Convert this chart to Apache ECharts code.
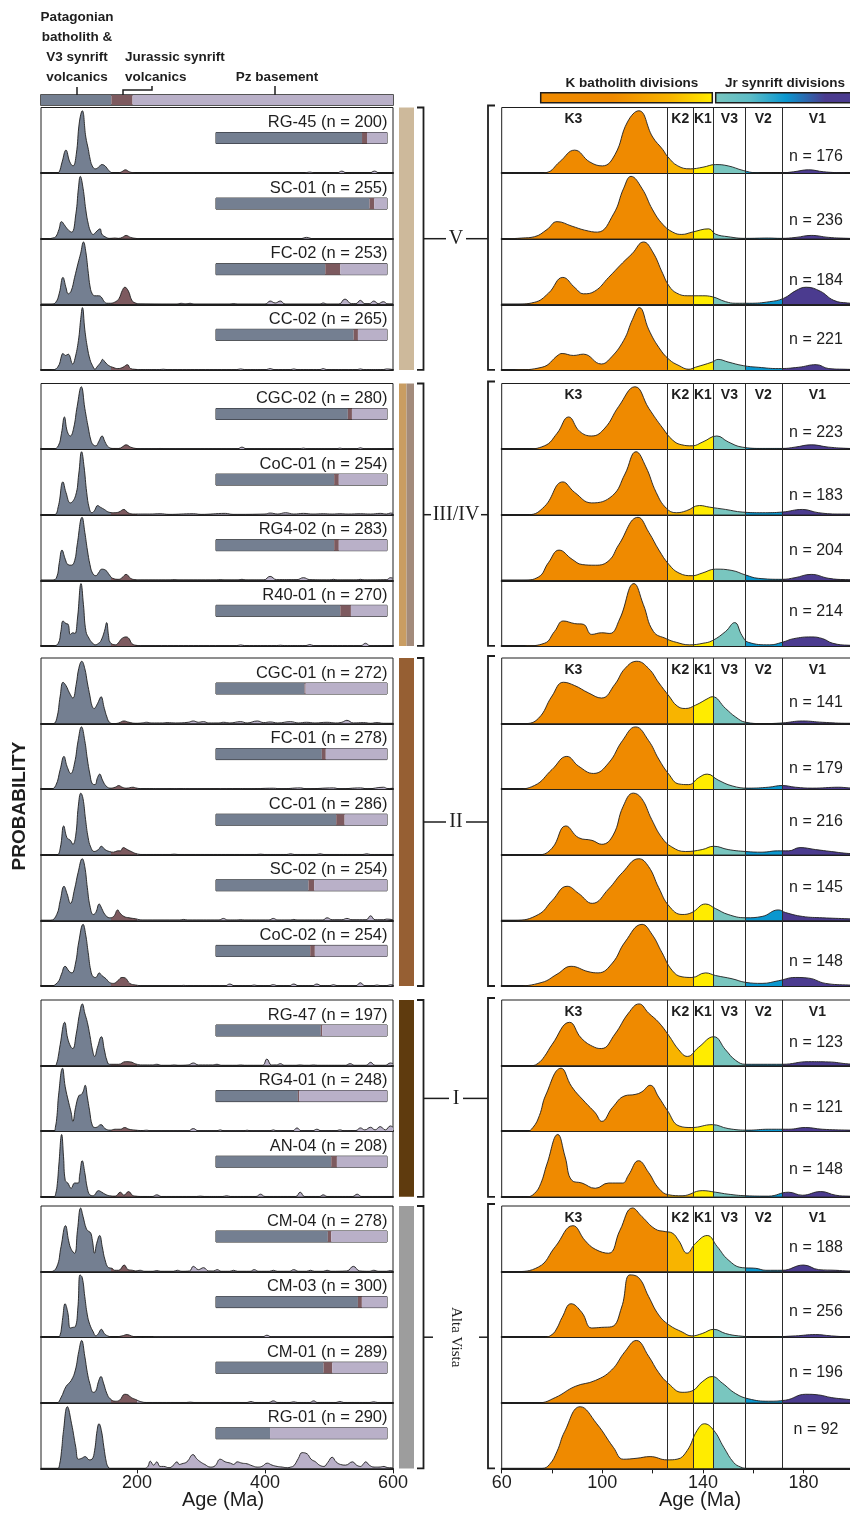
<!DOCTYPE html>
<html>
<head>
<meta charset="utf-8">
<script src="https://cdn.jsdelivr.net/npm/echarts@6.0.0/dist/echarts.min.js"></script>
<style>
  html, body { margin: 0; padding: 0; background: #fff; }
  #chart { width: 850px; height: 1513px; }
</style>
</head>
<body>
<div id="chart"></div>
<script>
// ---- data ----
const samples = ['RG-45', 'SC-01', 'FC-02', 'CC-02', 'CGC-02', 'CoC-01', 'RG4-02', 'R40-01',
  'CGC-01', 'FC-01', 'CC-01', 'SC-02', 'CoC-02', 'RG-47', 'RG4-01', 'AN-04',
  'CM-04', 'CM-03', 'CM-01', 'RG-01'];
const nAll = [200, 255, 253, 265, 280, 254, 283, 270, 272, 278, 286, 254, 254, 197, 248, 208, 278, 300, 289, 290];
const nYoung = [176, 236, 184, 221, 223, 183, 204, 214, 141, 179, 216, 145, 148, 123, 121, 148, 188, 256, 196, 92];

const groupNames = ['V', 'III/IV', 'II', 'I', 'Alta Vista'];
const groupSizes = [4, 4, 5, 3, 4];

// share of grains in each source (%)
const pctBatholith = [85.4, 89.8, 63.9, 80.5, 77.1, 69.1, 69.1, 72.7, 51.8, 61.9, 70.3, 54.1, 55.1, 61.3, 47.9, 67.4, 65.4, 83, 62.9, 31.6];
const pctJurassic = [2.9, 2.7, 8.8, 2.5, 2.4, 2.7, 2.7, 6.2, 0.6, 2.3, 4.9, 3.3, 2.7, 0.8, 0.8, 3.3, 2, 2.3, 5.1, 0];
const pctBasement = [11.7, 7.5, 27.3, 17, 20.5, 28.2, 28.2, 21.1, 47.6, 35.8, 24.8, 42.6, 42.2, 37.9, 51.3, 29.3, 32.6, 14.7, 32, 68.4];

// source age limits (Ma)
const sourceBreaks = [160, 200];
const legendBreaks = [160, 193];
const divisionBreaks = [126, 136, 144, 157, 171.5];
const divisionNames = ['K3', 'K2', 'K1', 'V3', 'V2', 'V1'];
const divisionLabelAges = [88.5, 131, 140, 150.5, 164, 185.5];

// density curves [age, relative probability]
const kRG45 = [[50,0],[75,0],[78,1],[83,17],[89,35],[95,17],[100,11],[105,28],[110,78],[114.5,95],[120,55],[124,36],[126,25],[130,11],[135,6.5],[140,9],[145,13],[150,11],[156,4],[161,0.5],[170,0],[176,2],[182,5],[188,2],[195,0.5],[205,0],[460,0],[470,1.5],[478,0],[512,0],[520,3],[528,0],[563,0],[571,3],[579,0],[600,0]];
const kSC01 = [[50,0],[62,0],[68,1],[73,3],[78,14],[82,26],[88,19],[93,13],[98,10],[104.5,38],[108.5,77],[111.4,95],[115.7,77],[120,44],[124,22],[128,10],[131.6,6.5],[135.7,10],[142.3,15],[145,7],[150,3],[157,0.5],[166,1],[171,0.5],[177,2],[183,5],[190,2],[198,0.5],[205,0],[455,0],[465,2],[475,0],[600,0]];
const kFC02 = [[50,0],[65,0],[73,3],[78.6,17],[84.3,41],[89.2,25],[92.5,16],[97,20],[102.5,41],[108,63],[111.8,77],[116.4,95],[120,80],[124,47],[126.5,28],[129.6,17],[134,13],[139.7,13],[143.7,11.5],[149,4],[153,1.6],[158.5,1.6],[166.5,4],[172,9],[177,21],[181,26],[186.6,20],[192,6],[197.5,2],[205,0.5],[262,0],[269,1.5],[276,0.5],[283,1.5],[290,0],[345,0],[351,1],[357,0],[400,0],[408,5],[416,2],[424,5],[432,0],[485,0],[491,2],[497,0],[515,0],[525,8],[535,1],[542,1],[549,6],[556,1],[563,1],[570,5],[577,1],[585,4],[592,0.5],[600,0.5]];
const kCC02 = [[50,0],[65,0],[76,4],[82.6,23],[84,25],[88.5,22],[92.5,24],[99.6,9],[103,17],[108.5,45],[112,77],[114.7,95],[118.5,61],[122.5,34],[126.5,16],[130.5,6.5],[134.4,1],[137,4],[143.7,12],[146,16],[150,12],[156,6.5],[162,4],[170,2],[178,4],[185,8],[190,2],[196,1],[205,0.5],[235,0.5],[241,1],[247,0.5],[356,0.5],[362,1.5],[368,0.5],[402,0.5],[408,2],[414,0.5],[440,0.5],[445,1.5],[450,0.5],[486,0.5],[491,2],[496,0.5],[544,0.5],[549,1.5],[554,0.5],[585,0.5],[590,1.5],[600,0.5]];
const kCGC02 = [[50,0],[69,0],[77,5],[82,24],[86.6,49],[91,27],[95.8,20],[101,32],[106.5,65],[113,95],[118.5,62],[124,32],[128,13.5],[131.6,6.5],[135.7,5],[140,11],[145.5,20],[150,11],[155.6,3],[163.6,1],[171.5,1],[176.6,3],[183,6.5],[190,3],[198,1],[205,0.5],[230,0.5],[236,1],[242,0.5],[357,0.5],[364,3],[371,0.5],[454,0.5],[460,1.5],[466,0.5],[511,0.5],[517,1.5],[523,0.5],[543,0.5],[549,2],[555,0.5],[600,0.5]];
const kCoC01 = [[50,0],[70.6,0],[77,12.5],[84.3,50],[89,34],[95.8,18],[104,29],[109,62],[113.4,96],[117.3,73],[121.4,34],[125.4,10],[129.4,3],[133.4,6],[138.6,14],[142.6,11.5],[149,8],[155.6,4],[163.6,3],[171.5,4],[179.5,8],[186,3],[195,1],[205,1],[220,1],[236,1.5],[250,0.5],[288,1.5],[300,0.5],[338,2],[350,0.5],[400,1],[408,2.5],[420,1],[432,3],[445,1],[460,2],[475,1],[491,1.5],[505,1],[517,1.5],[530,1],[549,1.5],[565,1],[580,2],[590,1],[596,2.5],[600,2]];
const kRG402 = [[50,0],[68,0],[74.6,5],[78.6,27],[82.8,46],[88,32],[92,24],[97.3,23],[102.6,30],[106.5,54],[114.2,96],[118.5,73],[122.5,46],[126.5,24],[130.5,11],[135.7,7],[139.7,11],[145,17],[151.5,15],[157,8],[162,3],[171.5,1.5],[176.6,4],[183,9],[190,3],[196.6,1],[205,0.5],[252,0.5],[258,1],[264,0.5],[324,0.5],[330,1],[336,0.5],[358,0.5],[364,1.5],[370,0.5],[398,0.5],[408,6],[418,1],[450,1],[460,4],[470,1],[501,0.5],[507,1.5],[513,0.5],[543,0.5],[549,1.5],[555,0.5],[590,1],[596,4],[600,3]];
const kR4001 = [[50,0],[69,0],[77,4],[81,22],[84.5,38],[89,34],[92.4,33],[95.8,17.5],[99.7,20],[103,19],[106.9,41],[112.6,95],[116.3,63],[120.3,22],[125.4,11],[129.4,5.5],[134.7,1.6],[140,4],[143.7,8],[149,22],[152.6,35.5],[155.5,16],[158,5.5],[166.5,1.6],[171.5,5.5],[176,11],[183,13.7],[187.6,11],[191.6,4],[198,1],[205,0.5],[356,0.5],[362,1.5],[368,0.5],[418,0.5],[424,1],[430,0.5],[464,0.5],[470,2],[476,0.5],[550,0.5],[557,4],[564,0.5],[600,0.5]];
const kCGC01 = [[50,0],[69,0],[74.6,8],[80,42],[84.5,63],[89,58],[94.4,47],[99.7,39],[105,60],[109,84],[113.7,95],[118.4,84],[122.5,62],[126.5,42],[129.7,27],[133,23],[137,28],[142.3,39],[143.7,41],[149,23],[153,10],[157,2],[163.6,0],[171.5,1],[179.6,4],[187.5,2],[198,0.5],[208,1],[215,2],[222,1],[240,1],[247,1.5],[260,1],[280,2],[288,4],[296,2],[304,3],[312,1],[328,1],[335,2],[345,1],[362,3],[372,1],[388,4],[398,1.5],[408,2.5],[420,1],[440,3],[452,1],[465,2],[478,1],[497,2],[510,1],[520,2],[528,5],[538,1],[554,1.5],[565,0.5],[575,1.5],[585,0.5],[600,0.5]];
const kFC01 = [[50,0],[65,0],[73,5.6],[80,30],[85.9,50],[90.6,35],[96.5,24],[102.5,40],[108,74],[113.2,95],[118.4,74],[122.4,46],[126.4,23],[130.4,8],[134.3,7],[138.3,17.6],[141.7,23],[146,14],[151.6,5],[158,1.6],[166,3],[171.5,5.6],[176.8,3],[183.5,1.6],[194,3],[198,2],[205,1],[226,1],[235,0.5],[273,1],[282,0.5],[362,1],[372,0.5],[413,1.5],[425,0.5],[455,2],[465,0.5],[507,2],[517,0.5],[549,2],[560,0.5],[585,3],[592,1],[600,1.5]];
const kCC01 = [[50,0],[74.6,0],[80,10],[85.5,44],[90.6,26],[95.9,22],[99.8,16],[104.3,30],[108.3,74],[112.3,94],[115.6,86],[119.6,54],[123.7,26],[127.6,12],[133,5],[139.7,8],[144.3,13],[150,8],[157,5],[163.5,4],[169.6,6],[174,6],[178.6,11],[184.7,8],[191,5],[198,2],[208,0.5],[252,0.5],[258,1],[264,0.5],[387,0.5],[393,1],[399,0.5],[434,0.5],[440,1.5],[446,0.5],[480,0.5],[486,1.5],[492,0.5],[553,0.5],[559,1.5],[565,0.5],[600,0.5]];
const kSC02 = [[50,0],[65,0],[74.6,9],[80,30],[86,52],[90.6,41],[96,26],[102.5,48],[108,73],[114.5,94],[118.4,82],[122.4,50],[126.5,22],[131.7,9],[135.6,12],[141,25],[145,18],[150,9],[157,4],[163.5,6],[170,16],[172.8,12],[179.6,6],[187.5,4],[198,2.4],[208,0.5],[267,0.5],[273,1.5],[279,0.5],[328,0.5],[335,3],[342,0.5],[356,0.5],[362,1],[368,0.5],[406,0.5],[413,3],[420,0.5],[440,0.5],[445,1.5],[450,0.5],[490,0.5],[497,4],[505,1],[520,1],[528,3],[536,1],[558,1],[565,7],[572,1],[585,1],[590,2],[600,1]];
const kCoC02 = [[50,0],[65,0],[76,5.5],[82,18],[87.6,30],[94.3,22],[98.3,20],[104,35],[109,67],[115.8,94],[119.7,79],[123.7,51],[127.7,24],[131.7,14],[135.6,13],[141,20],[145,16],[151.6,11],[157,5.5],[163.5,4],[170,8],[176.7,13],[182,12],[188.7,4],[198,1.5],[208,0.5],[267,0.5],[273,1],[279,0.5],[338,0.5],[345,3],[352,0.5],[377,0.5],[383,1.5],[389,0.5],[406,0.5],[413,2],[420,0.5],[438,0.5],[445,3],[452,0.5],[474,0.5],[481,3],[488,0.5],[501,0.5],[507,2],[513,0.5],[542,0.5],[549,5],[556,0.5],[569,0.5],[575,1.5],[581,0.5],[590,0.5],[596,2],[600,1.5]];
const kRG47 = [[50,0],[72,0],[74.6,4],[77,14],[80,32],[87,66],[91.6,42],[96.9,28],[99.7,26],[105,48],[110.4,80],[114.6,94],[118.4,80],[122.4,66],[126.4,46],[130.4,24],[133.8,14],[138.3,28],[144.3,44],[149,24],[153,8],[157,2],[171.5,2],[182,6],[190,5.6],[198,2.5],[208,1],[224,1],[231,2],[238,0.5],[252,0.5],[258,1],[264,0.5],[280,1],[288,4],[296,1],[318,1],[325,2],[332,0.5],[356,0.5],[362,1],[368,0.5],[396,0.5],[403,10],[410,1],[418,1],[424,3],[430,0.5],[448,0.5],[455,1],[462,0.5],[470,0.5],[476,1],[482,0.5],[526,0.5],[533,3],[540,0.5],[558,0.5],[565,5],[572,0.5],[588,0.5],[596,4],[600,3]];
const kRG401 = [[50,0],[70,0],[72.5,6],[75,24],[77.5,55],[83.6,96],[87.8,68],[93.2,44],[97.2,28],[99.8,15],[104,36],[109,54],[113,56],[115.7,60],[119,70],[122.4,52],[125.8,32],[130.5,8],[135.6,5.6],[143.7,10],[150,4],[158,1.6],[166,3],[174,3],[180.8,5.6],[187.4,3],[198,1.6],[208,1],[215,1.5],[222,0.5],[280,0.5],[288,4],[296,0.5],[324,0.5],[330,2],[336,0.5],[366,0.5],[372,1.5],[378,0.5],[407,0.5],[413,2],[419,0.5],[443,0.5],[450,5],[457,0.5],[474,0.5],[481,3],[488,0.5],[510,0.5],[517,2],[524,0.5],[542,1],[549,5],[556,2],[565,6],[572,2],[580,7],[588,2],[596,8],[600,6]];
const kAN04 = [[50,0],[70,0],[73,5],[75.5,20],[78,50],[82.3,95],[85.2,61],[87.9,25],[91.9,21],[97.2,13],[102.5,21],[108,21],[110.4,33],[114.4,55],[118.4,37],[122.4,13],[126.4,3],[131.7,1.6],[139.7,9.4],[145,7],[150,4],[157,1.6],[166,1],[174,7],[179.5,2.4],[186.8,8],[192.8,2.4],[198,1],[208,0.5],[224,0.5],[231,3],[238,0.5],[293,0.5],[299,1],[305,0.5],[334,0.5],[340,1.5],[346,0.5],[386,0.5],[393,4],[400,0.5],[448,0.5],[455,7],[462,0.5],[485,0.5],[491,3],[497,0.5],[537,0.5],[544,4],[551,0.5],[600,0.5]];
const kCM04 = [[50,0],[65,0],[74.6,7],[81.3,38],[88.3,70],[93.2,47],[97.2,34],[102.5,28],[107,63],[112,97],[115.7,84],[121,65],[125,61],[127.7,59],[130.4,47],[133.7,28],[137,43],[141.7,55],[145.7,38],[150,18],[155.6,6],[161,5],[165,2],[171.5,2],[180,10],[186,3],[192.8,2],[198,1],[205,2],[212,0.5],[225,0.5],[231,1.5],[237,0.5],[257,0.5],[263,2],[270,0.5],[282,1],[288,8],[296,3],[304,6],[312,1],[320,1],[325,3],[332,0.5],[345,0.5],[351,2],[357,0.5],[377,0.5],[383,3],[390,0.5],[407,0.5],[413,2],[419,0.5],[438,0.5],[445,3],[452,0.5],[465,0.5],[471,2],[477,0.5],[491,0.5],[497,2],[503,0.5],[528,1],[538,8],[548,1],[563,0.5],[570,2],[577,0.5],[590,0.5],[596,1.5],[600,1]];
const kCM03 = [[50,0],[77,0],[80,4],[82,14],[84,30],[87.6,51],[91.8,38],[95.8,14],[99.7,15],[103.7,16],[107.7,46],[111,95],[114.4,91],[118.4,62],[122.4,34],[126.4,19],[131.7,8],[135.6,2],[139.7,5.6],[144.3,12],[149,5.6],[154.2,2],[163.5,0],[176.7,2],[184.7,4],[191,2],[198,0.5],[208,0],[240,0.5],[300,0.5],[396,0.5],[403,3],[410,0.5],[500,0.5],[560,0.5],[600,0.5]];
const kCM01 = [[50,0],[74.6,0],[81.3,8],[89.2,25],[97.2,34],[103.7,50],[109,78],[113.5,95],[118.4,71],[122.4,46],[126.4,29],[131.7,16],[135.6,18],[139.7,32],[143.7,40],[147.7,30],[153,14],[158.2,6],[166,2.4],[172.8,4],[180.8,13],[186,12],[191,8],[198,5],[205,2],[215,0.5],[277,0.5],[283,1],[289,0.5],[372,0.5],[378,2],[384,0.5],[406,0.5],[413,3],[420,0.5],[439,0.5],[445,1.5],[451,0.5],[470,0.5],[476,3],[482,0.5],[511,0.5],[517,2],[523,0.5],[564,0.5],[570,1.5],[576,0.5],[600,0.5]];
const kRG01 = [[50,0],[76,0],[79,6],[82,26],[85,56],[91.2,94],[97.8,68],[104.4,32],[108.4,14],[113.8,15.5],[119,18],[125.7,13],[129.7,14],[133.7,27],[137.7,58],[140.6,68],[144.3,58],[148.3,32],[152.2,9],[155,2],[157.6,0],[212,0],[217,3],[220.7,11],[226,5],[231,10],[236,3],[241.6,3],[250,1],[256,4],[262.5,10],[266,6],[270,7],[278,10],[287.6,21],[293,15],[299,10],[306,6],[314.7,2],[322,4],[330,14],[338,10],[346,8],[351,6],[356.5,10],[364,8],[372,7],[380,4],[387.8,2],[395,3],[403.5,8],[411,5],[419,3],[427,2],[434.8,1],[440,2],[445,4],[452,15],[458,24],[466,22],[472,14],[479,10],[485,5],[492,3],[498,9],[505,17],[511,10],[518,6],[526,5],[536.6,10],[543,5],[549.6,3],[553,6],[557.4,10],[563,5],[570.5,2],[578,2],[586,3],[592,1],[597,1],[600,0.5]];

const kdes = [kRG45, kSC01, kFC02, kCC02, kCGC02, kCoC01, kRG402, kR4001,
  kCGC01, kFC01, kCC01, kSC02, kCoC02, kRG47, kRG401, kAN04,
  kCM04, kCM03, kCM01, kRG01];

// ---- layout & style ----
const INK = '#1e1e1e';
const SANS = '"Liberation Sans", Arial, Helvetica, sans-serif';
const SERIF = '"Liberation Serif", "Times New Roman", serif';
const SRC_COLORS = ['#747f91', '#7d5a5f', '#b9b0c8'];
const DIV_COLORS = ['#ef8a00', '#f8b400', '#ffec00', '#79c6bf', '#0a97cf', '#4b3b8f'];
const STRIP_COLORS = [['#cdb99b'], ['#c99d62', '#a38b7b'], ['#965f33'], ['#5f3b0e'], ['#9d9d9d']];
const groupTops = [107.5, 383.5, 658, 1000, 1206];
const ROW_H = 65.6;
const LX = 41, LW = 352;
const RX = 501.7, RW = 352.2;
const SMOOTH = 0.45;
const nLabelDy = [49, 47, 42, 35, 49, 46, 36, 31, 45, 45, 32, 33, 41, 43, 42, 38, 42, 40, 35, 27];
const labelHalf = [9, 24, 9, 6, 22];

function xR(a) { return RX + (a - 60) / 140 * RW; }

const groupOf = [], rowOf = [];
groupSizes.forEach((n, g) => { for (let r = 0; r < n; r++) { groupOf.push(g); rowOf.push(r); } });

const grid = [], xAxis = [], yAxis = [], series = [], graphic = [];
const leftArea = [], rightArea = [];

function addGrid(g) {
  grid.push(Object.assign({ show: true, borderColor: INK, borderWidth: 1, containLabel: false, outerBoundsMode: 'none' }, g));
  return grid.length - 1;
}

function kdePair(gi, data, areaList, extra) {
  areaList.push(series.length);
  series.push({ type: 'line', xAxisIndex: gi, yAxisIndex: gi, data: data, smooth: SMOOTH,
    showSymbol: false, symbol: 'none', silent: true, lineStyle: { width: 0 }, areaStyle: { opacity: 1 }, z: 2 });
  series.push(Object.assign({ type: 'line', xAxisIndex: gi, yAxisIndex: gi, data: data, smooth: SMOOTH,
    showSymbol: false, symbol: 'none', silent: true, lineStyle: { width: 0.9, color: INK }, z: 3 }, extra || {}));
}

samples.forEach((name, i) => {
  const top = groupTops[groupOf[i]] + rowOf[i] * ROW_H;
  const last = i === samples.length - 1;

  // left density panel
  let gi = addGrid({ left: LX, top: top, width: LW, height: ROW_H });
  xAxis.push({
    gridIndex: gi, type: 'value', min: 50, max: 600,
    axisLine: { show: true, onZero: false, lineStyle: { color: INK, width: 2 } },
    axisTick: { show: last, customValues: [200, 400, 600], length: 5, lineStyle: { color: INK } },
    axisLabel: { show: last, customValues: [200, 400, 600], fontSize: 18, color: INK, margin: 6, fontFamily: SANS },
    splitLine: { show: false }
  });
  yAxis.push({ gridIndex: gi, type: 'value', min: 0, max: 100, show: false });
  kdePair(gi, kdes[i], leftArea);

  // proportion bar
  gi = addGrid({ left: 216, top: top + 25, width: 171, height: 11 });
  xAxis.push({ gridIndex: gi, type: 'value', min: 0, max: 100, show: false });
  yAxis.push({ gridIndex: gi, type: 'category', data: [name], show: false });
  [pctBatholith, pctJurassic, pctBasement].forEach((arr, k) => {
    series.push({ type: 'bar', xAxisIndex: gi, yAxisIndex: gi, stack: 'p' + i, data: [arr[i]],
      barWidth: '100%', silent: true, itemStyle: { color: SRC_COLORS[k] }, z: 2 });
  });

  // right density panel
  gi = addGrid({ left: RX, top: top, width: RW, height: ROW_H });
  xAxis.push({
    gridIndex: gi, type: 'value', min: 60, max: 200, interval: 20,
    axisLine: { show: true, onZero: false, lineStyle: { color: INK, width: 2 } },
    axisTick: { show: last, length: 5, lineStyle: { color: INK } },
    axisLabel: { show: last, fontSize: 18, color: INK, margin: 6, fontFamily: SANS,
      formatter: v => ((v - 60) % 40 === 0 && v < 200) ? String(v) : '' },
    splitLine: { show: false }
  });
  yAxis.push({ gridIndex: gi, type: 'value', min: 0, max: 100, show: false });
  kdePair(gi, kdes[i], rightArea, {
    markLine: { silent: true, symbol: ['none', 'none'], label: { show: false },
      lineStyle: { color: '#2b2b2b', width: 1, type: 'solid' },
      data: divisionBreaks.map(v => ({ xAxis: v })) } });

  // texts
  graphic.push({ type: 'text', x: 387.5, y: top + 15, z: 10,
    style: { text: name + ' (n = ' + nAll[i] + ')', font: '16.5px ' + SANS, fill: INK,
      align: 'right', textAlign: 'right', verticalAlign: 'middle', textVerticalAlign: 'middle' } });
  graphic.push({ type: 'text', x: 816, y: top + nLabelDy[i], z: 10,
    style: { text: 'n = ' + nYoung[i], font: '16px ' + SANS, fill: INK,
      align: 'center', textAlign: 'center', verticalAlign: 'middle', textVerticalAlign: 'middle' } });
  if (rowOf[i] === 0) {
    divisionNames.forEach((d, k) => {
      graphic.push({ type: 'text', x: xR(divisionLabelAges[k]), y: top + 12, z: 10,
        style: { text: d, font: 'bold 14px ' + SANS, fill: INK,
          align: 'center', textAlign: 'center', verticalAlign: 'middle', textVerticalAlign: 'middle' } });
    });
  }
});

// top source legend bar (age scale)
{
  const gi = addGrid({ left: LX, top: 95, width: LW, height: 10, borderWidth: 1.5 });
  xAxis.push({ gridIndex: gi, type: 'value', min: 50, max: 600, show: false });
  yAxis.push({ gridIndex: gi, type: 'category', data: ['src'], show: false });
  [legendBreaks[0], legendBreaks[1] - legendBreaks[0], 600 - legendBreaks[1]].forEach((v, k) => {
    series.push({ type: 'bar', xAxisIndex: gi, yAxisIndex: gi, stack: 'legend', data: [v],
      barWidth: '100%', silent: true, itemStyle: { color: SRC_COLORS[k] }, z: 2 });
  });
}

// group brackets, strips and labels
groupNames.forEach((gname, g) => {
  const t = groupTops[g], b = t + groupSizes[g] * ROW_H, m = (t + b) / 2;
  const cols = STRIP_COLORS[g];
  const sw = 15 / cols.length;
  cols.forEach((c, k) => {
    graphic.push({ type: 'rect', shape: { x: 399 + k * sw, y: t, width: sw, height: b - t }, style: { fill: c } });
  });
  graphic.push({ type: 'polyline', shape: { points: [[417, t], [423.5, t], [423.5, b], [417, b]] },
    style: { stroke: INK, lineWidth: 1.8, fill: null } });
  graphic.push({ type: 'polyline', shape: { points: [[495, t - 2], [488, t - 2], [488, b], [495, b]] },
    style: { stroke: INK, lineWidth: 1.8, fill: null } });
  graphic.push({ type: 'line', shape: { x1: 423.5, y1: m, x2: 456 - labelHalf[g] - 1, y2: m }, style: { stroke: INK, lineWidth: 1.5 } });
  graphic.push({ type: 'line', shape: { x1: 456 + labelHalf[g] + 1, y1: m, x2: 488, y2: m }, style: { stroke: INK, lineWidth: 1.5 } });
  const isLong = gname.length > 6;
  graphic.push({ type: 'text', x: 456, y: m, rotation: isLong ? -Math.PI / 2 : 0,
    style: { text: gname, font: (isLong ? '15px ' : '20px ') + SERIF, fill: INK,
      align: 'center', textAlign: 'center', verticalAlign: 'middle', textVerticalAlign: 'middle' } });
});

// top-left legend texts
const boldFont = 'bold 13.5px ' + SANS;
graphic.push({ type: 'text', x: 77, y: 47, style: { text: 'Patagonian\nbatholith &\nV3 synrift\nvolcanics', font: boldFont,
  lineHeight: 20, fill: INK, align: 'center', textAlign: 'center', verticalAlign: 'middle', textVerticalAlign: 'middle' } });
graphic.push({ type: 'text', x: 125, y: 67, style: { text: 'Jurassic synrift\nvolcanics', font: boldFont,
  lineHeight: 20, fill: INK, align: 'left', textAlign: 'left', verticalAlign: 'middle', textVerticalAlign: 'middle' } });
graphic.push({ type: 'text', x: 277, y: 77, style: { text: 'Pz basement', font: boldFont,
  fill: INK, align: 'center', textAlign: 'center', verticalAlign: 'middle', textVerticalAlign: 'middle' } });
graphic.push({ type: 'line', shape: { x1: 77, y1: 87, x2: 77, y2: 95 }, style: { stroke: INK, lineWidth: 1.5 } });
graphic.push({ type: 'polyline', shape: { points: [[123, 95], [123, 90], [152, 90], [152, 86]] }, style: { stroke: INK, lineWidth: 1.5, fill: null } });
graphic.push({ type: 'line', shape: { x1: 275, y1: 86, x2: 275, y2: 95 }, style: { stroke: INK, lineWidth: 1.5 } });

// top-right legend
graphic.push({ type: 'rect', shape: { x: 540.7, y: 92.7, width: 171.6, height: 10 },
  style: { stroke: INK, lineWidth: 1.5,
    fill: new echarts.graphic.LinearGradient(0, 0, 1, 0, [
      { offset: 0, color: DIV_COLORS[0] }, { offset: 0.42, color: DIV_COLORS[0] },
      { offset: 0.75, color: DIV_COLORS[1] }, { offset: 1, color: DIV_COLORS[2] }]) } });
graphic.push({ type: 'rect', shape: { x: 715.7, y: 92.7, width: 140, height: 10 },
  style: { stroke: INK, lineWidth: 1.5,
    fill: new echarts.graphic.LinearGradient(0, 0, 1, 0, [
      { offset: 0, color: DIV_COLORS[3] }, { offset: 0.25, color: '#5cbcc6' },
      { offset: 0.5, color: DIV_COLORS[4] }, { offset: 0.78, color: DIV_COLORS[5] }, { offset: 1, color: DIV_COLORS[5] }]) } });
graphic.push({ type: 'text', x: 632, y: 83, style: { text: 'K batholith divisions', font: boldFont, fill: INK,
  align: 'center', textAlign: 'center', verticalAlign: 'middle', textVerticalAlign: 'middle' } });
graphic.push({ type: 'text', x: 725, y: 83, style: { text: 'Jr synrift divisions', font: boldFont, fill: INK,
  align: 'left', textAlign: 'left', verticalAlign: 'middle', textVerticalAlign: 'middle' } });

// axis titles
graphic.push({ type: 'text', x: 20, y: 806, rotation: Math.PI / 2, style: { text: 'PROBABILITY', font: 'bold 19px ' + SANS,
  fill: INK, align: 'center', textAlign: 'center', verticalAlign: 'middle', textVerticalAlign: 'middle' } });
graphic.push({ type: 'text', x: 223, y: 1500, style: { text: 'Age (Ma)', font: '20px ' + SANS, fill: INK,
  align: 'center', textAlign: 'center', verticalAlign: 'middle', textVerticalAlign: 'middle' } });
graphic.push({ type: 'text', x: 700, y: 1500, style: { text: 'Age (Ma)', font: '20px ' + SANS, fill: INK,
  align: 'center', textAlign: 'center', verticalAlign: 'middle', textVerticalAlign: 'middle' } });

const chart = echarts.init(document.getElementById('chart'));
chart.setOption({
  animation: false,
  backgroundColor: '#fff',
  textStyle: { fontFamily: SANS },
  grid, xAxis, yAxis, series, graphic,
  visualMap: [
    { type: 'piecewise', show: false, dimension: 0, seriesIndex: leftArea,
      pieces: [
        { lt: sourceBreaks[0], color: SRC_COLORS[0] },
        { gte: sourceBreaks[0], lt: sourceBreaks[1], color: SRC_COLORS[1] },
        { gte: sourceBreaks[1], color: SRC_COLORS[2] }] },
    { type: 'piecewise', show: false, dimension: 0, seriesIndex: rightArea,
      pieces: [
        { lt: divisionBreaks[0], color: DIV_COLORS[0] },
        { gte: divisionBreaks[0], lt: divisionBreaks[1], color: DIV_COLORS[1] },
        { gte: divisionBreaks[1], lt: divisionBreaks[2], color: DIV_COLORS[2] },
        { gte: divisionBreaks[2], lt: divisionBreaks[3], color: DIV_COLORS[3] },
        { gte: divisionBreaks[3], lt: divisionBreaks[4], color: DIV_COLORS[4] },
        { gte: divisionBreaks[4], color: DIV_COLORS[5] }] }
  ]
});
</script>
</body>
</html>
